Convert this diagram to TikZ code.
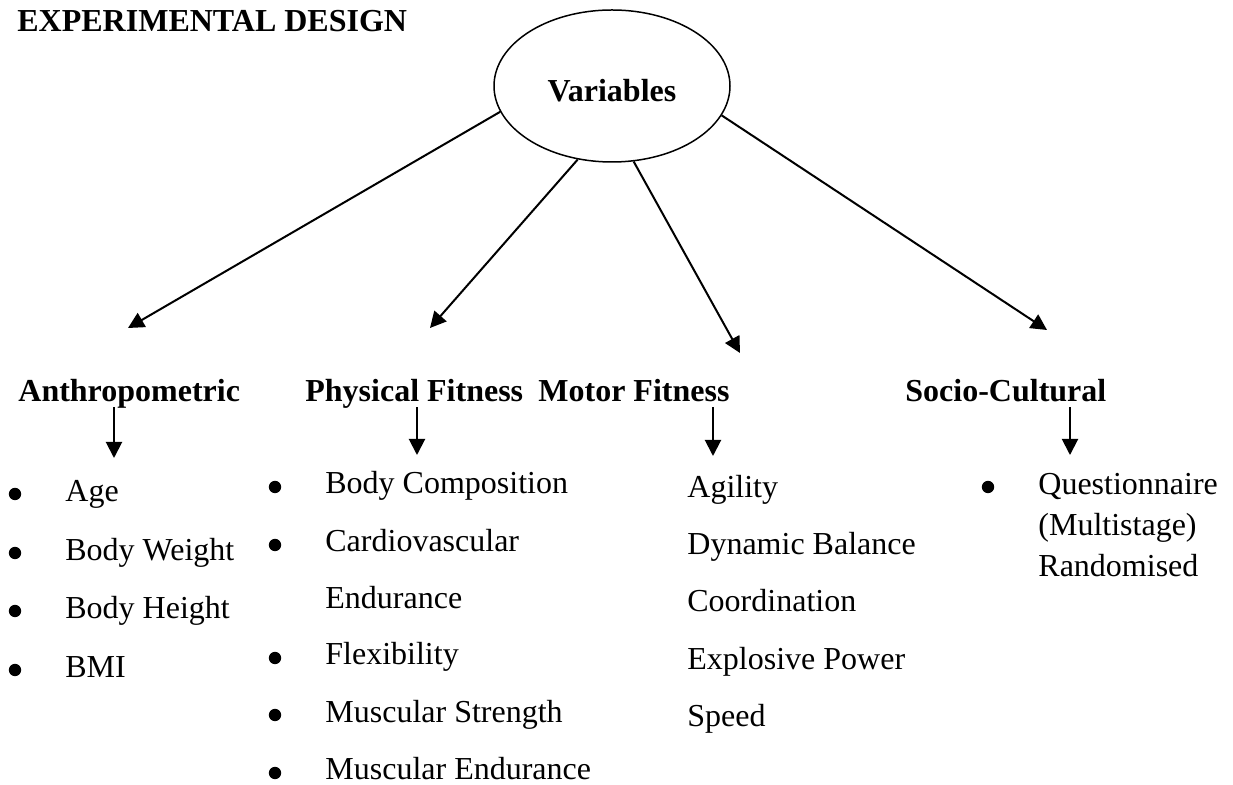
\documentclass[tikz,border=0pt]{standalone}
\usepackage{fontspec}
\setmainfont{Liberation Serif}
\usetikzlibrary{arrows.meta,shapes.geometric}
\begin{document}
\begin{tikzpicture}[x=0.5pt,y=-0.5pt,
  txt/.style={anchor=base west,inner sep=0pt,font=\fontsize{16}{19}\selectfont},
  head/.style={anchor=base west,inner sep=0pt,text depth=0.25em,font=\fontsize{16}{19}\selectfont\bfseries},
  bul/.style={circle,fill=black,inner sep=0pt,minimum size=6.2pt},
  arr/.style={line width=1pt,-{Triangle[length=8pt,width=8pt]}}]
\useasboundingbox (0,0) rectangle (1233,785);
% title
\node[txt,font=\fontsize{16}{19}\selectfont\bfseries] (title) at (17,32) {EXPERIMENTAL DESIGN};
% ellipse
\node[ellipse,draw,line width=0.75pt,minimum width=118pt,minimum height=76pt,inner sep=0pt] (var) at (612,86) {};
\node[txt,anchor=base,font=\fontsize{16}{19}\selectfont\bfseries] (varl) at (612,102) {Variables};
% headings
\node[head] (h1) at (18,402) {Anthropometric};
\node[head] (h2) at (305,402) {Physical Fitness};
\node[head] (h3) at (538,402) {Motor Fitness};
\node[head] (h4) at (905,402) {Socio-Cultural};
% arrow tips
\coordinate (t1) at (128,328);
\coordinate (t2) at (430,328);
\coordinate (t3) at (740,353);
\coordinate (t4) at (1047,330);
\draw[arr] (var.193) -- (t1);
\draw[arr] (var.245) -- (t2);
\draw[arr] (var.286) -- (t3);
\draw[arr] (var.345) -- (t4);
% small arrows
\coordinate (d1) at (114,458);
\coordinate (d2) at (417,455);
\coordinate (d3) at (713,456);
\coordinate (d4) at (1070,455);
\draw[arr] (h1.south -| d1) -- (d1);
\draw[arr] (h2.south -| d2) -- (d2);
\draw[arr] (h3.south -| d3) -- (d3);
\draw[arr] (h4.south -| d4) -- (d4);
% Anthropometric list
\node[bul] (ab1) at (15,494) {};
\node[bul] (ab2) at (15,553) {};
\node[bul] (ab3) at (15,611) {};
\node[bul] (ab4) at (15,670) {};
\node[txt] (a1) at (65,502) {Age};
\node[txt] (a2) at (65,561) {Body Weight};
\node[txt] (a3) at (65,619) {Body Height};
\node[txt] (a4) at (65,678) {BMI};
% Physical fitness list
\node[bul] (pb1) at (275,487) {};
\node[bul] (pb2) at (275,545) {};
\node[bul] (pb3) at (275,658) {};
\node[bul] (pb4) at (275,715) {};
\node[bul] (pb5) at (275,773) {};
\node[txt] (p1) at (325,494) {Body Composition};
\node[txt] (p2) at (325,552) {Cardiovascular};
\node[txt] (p2b) at (325,609) {Endurance};
\node[txt] (p3) at (325,665) {Flexibility};
\node[txt] (p4) at (325,723) {Muscular Strength};
\node[txt] (p5) at (325,780) {Muscular Endurance};
% Motor fitness list
\node[txt] (m1) at (687,498) {Agility};
\node[txt] (m2) at (687,555) {Dynamic Balance};
\node[txt] (m3) at (687,612) {Coordination};
\node[txt] (m4) at (687,670) {Explosive Power};
\node[txt] (m5) at (687,727) {Speed};
% Socio-cultural list
\node[bul] (sb1) at (988,487) {};
\node[txt] (s1) at (1038,495) {Questionnaire};
\node[txt] (s2) at (1038,536) {(Multistage)};
\node[txt] (s3) at (1038,577) {Randomised};
\end{tikzpicture}
\end{document}
